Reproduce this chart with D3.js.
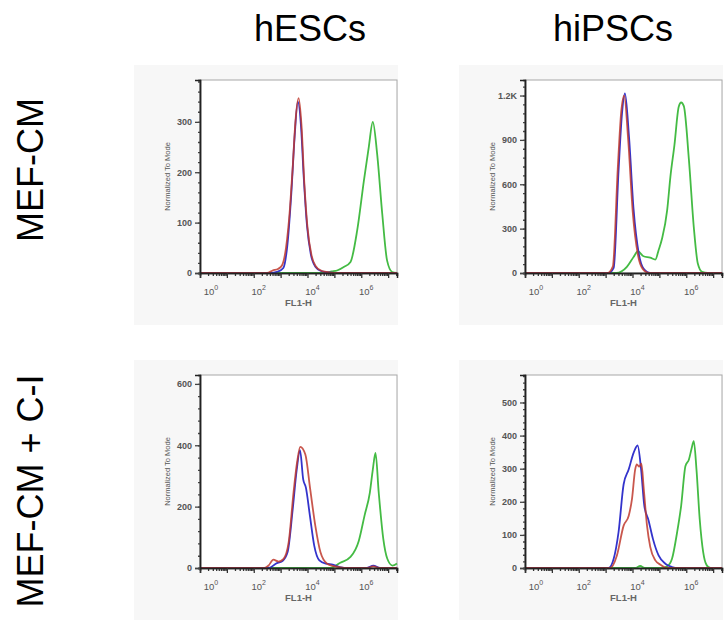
<!DOCTYPE html>
<html>
<head>
<meta charset="utf-8">
<script src="https://cdn.jsdelivr.net/npm/d3@7"></script>
<style>
  body { margin: 0; background: #fff; }
  svg { display: block; font-family: "Liberation Sans", Arial, sans-serif; }
</style>
</head>
<body>
<svg></svg>
<script>
const width = 725;
const height = 622;

const columns = ['hESCs', 'hiPSCs'];
const rows = ['MEF-CM', 'MEF-CM + C-I'];

// x values are log10(FL1-H), y values are counts normalized to mode
const esMefBlue = [[0,0],[2.6,0],[2.9,3],[3.1,10],[3.25,55],[3.4,160],[3.52,270],[3.64,340],[3.76,290],[3.86,190],[3.98,95],[4.12,38],[4.3,12],[4.5,4],[4.8,1],[5.2,0],[7.33,0]];
const esMefRed = [[0,0],[2.5,0],[2.7,5],[2.9,8],[3.05,15],[3.2,50],[3.35,130],[3.45,210],[3.55,300],[3.67,347],[3.78,290],[3.88,180],[4.0,90],[4.15,35],[4.3,14],[4.5,5],[4.7,2],[5.0,0],[7.33,0]];
const esMefGreen = [[0,0],[4.6,0],[4.9,3],[5.1,5],[5.35,12],[5.6,22],[5.85,85],[6.1,184],[6.28,250],[6.43,300],[6.59,237],[6.78,118],[6.96,25],[7.15,2],[7.33,0]];

const ipsMefBlue = [[0,0],[3.1,0],[3.3,35],[3.48,690],[3.61,1080],[3.72,1215],[3.87,920],[4.04,430],[4.23,135],[4.41,30],[4.66,0],[7.33,0]];
const ipsMefRed = [[0,0],[3.07,0],[3.27,45],[3.45,700],[3.58,1090],[3.69,1200],[3.84,900],[4.01,410],[4.2,125],[4.38,28],[4.62,0],[7.33,0]];
const ipsMefGreen = [[0,0],[3.4,0],[3.79,41],[4.04,108],[4.2,147],[4.41,113],[4.66,104],[4.85,91],[4.97,154],[5.1,233],[5.29,425],[5.41,650],[5.56,865],[5.72,1124],[5.81,1153],[5.91,1128],[6.1,763],[6.28,311],[6.43,64],[6.59,7],[6.8,0],[7.33,0]];

const esCiBlue = [[0,0],[2.57,0],[2.82,14],[3.07,23],[3.26,52],[3.45,192],[3.6,321],[3.72,384],[3.84,289],[3.94,262],[4.09,170],[4.25,73],[4.44,25],[4.69,14],[4.94,11],[5.2,3],[5.5,0],[6.2,0],[6.45,8],[6.7,0],[7.33,0]];
const esCiRed = [[0,0],[2.4,0],[2.55,8],[2.73,27],[2.92,21],[3.11,30],[3.3,84],[3.48,246],[3.61,343],[3.73,395],[3.92,370],[4.1,257],[4.29,138],[4.48,52],[4.73,14],[4.98,6],[5.22,2],[5.5,0],[6.2,0],[6.45,5],[6.7,0],[7.33,0]];
const esCiGreen = [[0,0],[4.85,0],[5.22,17],[5.6,36],[5.91,89],[6.12,170],[6.32,246],[6.43,321],[6.53,375],[6.65,246],[6.82,95],[6.97,30],[7.16,8],[7.33,15]];

const ipsCiBlue = [[0,0],[3.11,0],[3.3,28],[3.48,108],[3.67,253],[3.86,298],[4.04,348],[4.19,370],[4.32,298],[4.44,188],[4.6,143],[4.76,88],[4.97,38],[5.22,13],[5.47,3],[5.7,0],[7.33,0]];
const ipsCiRed = [[0,0],[3.17,0],[3.42,38],[3.67,128],[3.86,158],[3.98,208],[4.1,298],[4.16,313],[4.25,306],[4.33,315],[4.42,238],[4.54,128],[4.66,64],[4.85,23],[5.04,10],[5.3,0],[7.33,0]];
const ipsCiGreen = [[0,0],[4.1,0],[4.29,6],[4.45,0],[5.1,0],[5.29,5],[5.47,28],[5.66,108],[5.81,188],[5.97,308],[6.1,328],[6.19,358],[6.28,383],[6.38,298],[6.5,148],[6.63,48],[6.75,10],[6.9,0],[7.33,0]];

const xDecades = [0, 2, 4, 6];
const xMax = 7.33;
const esMefYTicks = [0, 100, 200, 300];
const ipsMefYTicks = [0, 300, 600, 900, 1200];
const esCiYTicks = [0, 200, 400, 600];
const ipsCiYTicks = [0, 100, 200, 300, 400, 500];
const yMax = [[383, 1305], [629, 583]];
const yMinorStep = [[20, 60], [40, 20]];

const blue = '#3333cc';
const red = '#bf3a2e';
const green = '#44bb44';

const plotLeft = [200, 525];
const plotTop = [80, 375];
const plotW = 197;
const plotH = 193;
const titleX = [310, 613];
const rowY = [170, 491];

window.onload = () => {
  const svg = d3.select('svg')
      .attr('width', width)
      .attr('height', height);

  const panels = [
    [{ data: [esMefGreen, esMefBlue, esMefRed], yTicks: esMefYTicks },
     { data: [ipsMefGreen, ipsMefBlue, ipsMefRed], yTicks: ipsMefYTicks }],
    [{ data: [esCiGreen, esCiBlue, esCiRed], yTicks: esCiYTicks },
     { data: [ipsCiGreen, ipsCiBlue, ipsCiRed], yTicks: ipsCiYTicks }]
  ];
  const colors = [green, blue, red];

  // column headers and row labels
  columns.forEach((c, i) => {
    svg.append('text')
        .attr('x', titleX[i])
        .attr('y', 41)
        .attr('text-anchor', 'middle')
        .attr('font-size', 36)
        .text(c);
  });
  rows.forEach((r, j) => {
    svg.append('text')
        .attr('transform', `translate(43,${rowY[j]}) rotate(-90)`)
        .attr('text-anchor', 'middle')
        .attr('font-size', 36)
        .text(r);
  });

  panels.forEach((row, j) => {
    row.forEach((p, i) => {
      const left = plotLeft[i];
      const top = plotTop[j];
      const g = svg.append('g');

      g.append('rect')
          .attr('x', left - 66)
          .attr('y', top - 15)
          .attr('width', 264)
          .attr('height', 260)
          .attr('fill', '#f7f7f7');

      const x = d3.scaleLog()
          .domain([1, Math.pow(10, xMax)])
          .range([left, left + plotW]);
      const y = d3.scaleLinear()
          .domain([0, yMax[j][i]])
          .range([top + plotH, top]);

      g.append('rect')
          .attr('x', left)
          .attr('y', top)
          .attr('width', plotW)
          .attr('height', plotH)
          .attr('fill', '#fff')
          .attr('stroke', '#a8a8a8');

      const line = d3.line()
          .x(d => x(Math.pow(10, d[0])))
          .y(d => y(d[1]))
          .curve(d3.curveMonotoneX);

      p.data.forEach((s, k) => {
        g.append('path')
            .datum(s)
            .attr('fill', 'none')
            .attr('stroke', colors[k])
            .attr('stroke-width', 1.8)
            .attr('stroke-opacity', k === 2 ? 0.85 : 1)
            .attr('d', line);
      });

      // x axis: decades and minor ticks
      const majors = d3.range(0, 8).map(e => Math.pow(10, e));
      const minors = [];
      d3.range(0, 8).forEach(e => {
        for (let m = 2; m < 10; m++) {
          const v = m * Math.pow(10, e);
          if (v < Math.pow(10, xMax)) minors.push(v);
        }
      });
      const xAxisG = g.append('g')
          .attr('transform', `translate(0,${top + plotH})`);
      xAxisG.call(d3.axisBottom(x).tickValues(minors).tickSize(3).tickFormat(''));
      xAxisG.append('g')
          .call(d3.axisBottom(x).tickValues(majors).tickSize(5).tickFormat(''));
      xAxisG.selectAll('path').attr('stroke', '#222').attr('stroke-width', 1.5);
      xAxisG.selectAll('line').attr('stroke', '#333').attr('stroke-width', 1.3);

      xDecades.forEach(e => {
        const t = g.append('text')
            .attr('x', Math.max(x(Math.pow(10, e)) + 5, left + 11))
            .attr('y', top + plotH + 22)
            .attr('text-anchor', 'middle')
            .attr('font-size', 9.5)
            .attr('fill', '#555');
        t.append('tspan').text('10');
        t.append('tspan')
            .attr('dy', -5)
            .attr('font-size', 7)
            .text(e);
      });

      g.append('text')
          .attr('x', left + plotW / 2)
          .attr('y', top + plotH + 33)
          .attr('text-anchor', 'middle')
          .attr('font-size', 9.5)
          .attr('font-weight', 'bold')
          .attr('fill', '#666')
          .text('FL1-H');

      // y axis
      const yMinors = d3.range(0, yMax[j][i], yMinorStep[j][i]);
      const yAxisG = g.append('g')
          .attr('transform', `translate(${left},0)`);
      yAxisG.call(d3.axisLeft(y).tickValues(yMinors).tickSize(2).tickFormat(''));
      yAxisG.append('g')
          .call(d3.axisLeft(y).tickValues(p.yTicks).tickSize(5)
            .tickFormat(d => d >= 1000 ? (d / 1000) + 'K' : d));
      yAxisG.selectAll('path').attr('stroke', '#222').attr('stroke-width', 1.5);
      yAxisG.selectAll('line').attr('stroke', '#444').attr('stroke-width', 1.3);
      yAxisG.selectAll('text')
          .attr('font-size', 9)
          .attr('font-weight', 'bold')
          .attr('fill', '#555')
          .attr('font-family', '"Liberation Sans", Arial, sans-serif');

      g.append('text')
          .attr('transform', `translate(${left - 30},${top + plotH / 2}) rotate(-90)`)
          .attr('text-anchor', 'middle')
          .attr('font-size', 7.5)
          .attr('fill', '#555')
          .text('Normalized To Mode');
    });
  });
};
</script>
</body>
</html>
